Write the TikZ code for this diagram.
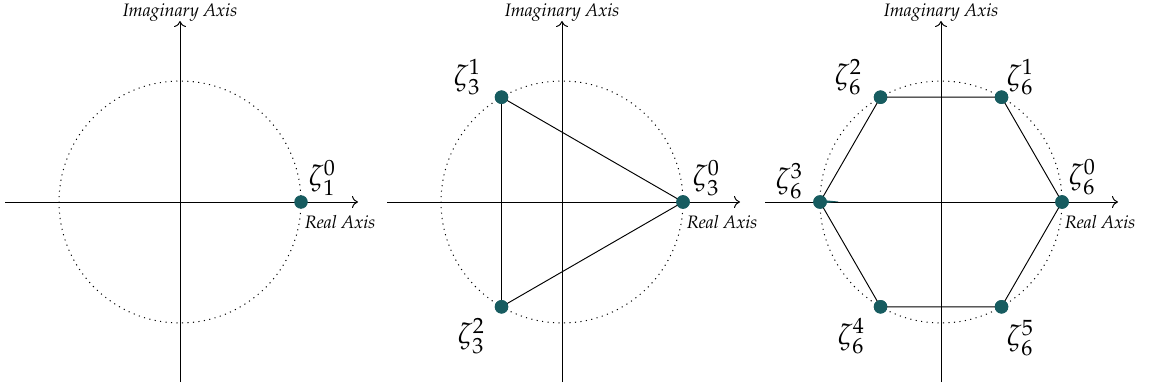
\documentclass[tikz,border=0pt]{standalone}
\usepackage[T1]{fontenc}
\usepackage{mathpazo}
\usetikzlibrary{arrows.meta}
\definecolor{dotteal}{HTML}{175C60}
\tikzset{
  axis/.style={line width=0.95pt,-{To[length=6pt,width=12pt]}},
  unitcircle/.style={line width=1pt,dash pattern=on 1.1pt off 4.4pt},
  edge/.style={line width=0.95pt},
  root/.style={circle,fill=dotteal,inner sep=0pt,minimum size=13.5pt},
  zlab/.style={font=\fontsize{29}{33}\selectfont},
  axlab/.style={font=\fontsize{18}{21}\selectfont\itshape}
}
\begin{document}
\begin{tikzpicture}[x=1pt,y=-1pt]
\useasboundingbox (0,0) rectangle (1153,390);
% ---------- panel 1 ----------
\coordinate (c1) at (180,202);
\coordinate (l1) at (5,202);
\coordinate (r1) at (358,202);
\coordinate (b1) at (180,382);
\coordinate (t1) at (180,21);
\draw[unitcircle] (c1) circle[radius=121];
\draw[axis] (l1) -- (r1);
\draw[axis] (b1) -- (t1);
\node[axlab] (im1) at (180,12) {Imaginary Axis};
\node[axlab] (re1) at (340,222) {Real Axis};
\node[root] (p10) at (301,202) {};
\node[zlab] (z10) at (322,178) {$\zeta_1^0$};
% ---------- panel 2 ----------
\coordinate (c2) at (562,202);
\coordinate (l2) at (387,202);
\coordinate (r2) at (740,202);
\coordinate (b2) at (562,382);
\coordinate (t2) at (562,21);
\draw[unitcircle] (c2) circle[radius=121];
\draw[axis] (l2) -- (r2);
\draw[axis] (b2) -- (t2);
\node[axlab] (im2) at (562,12) {Imaginary Axis};
\node[axlab] (re2) at (722,222) {Real Axis};
\node[root] (p30) at (683,202) {};
\node[root] (p31) at (501.5,97.2) {};
\node[root] (p32) at (501.5,306.8) {};
\draw[edge] (p30.center) -- (p31.center) -- (p32.center) -- (p30.center);
\node[root] at (p30) {};
\node[root] at (p31) {};
\node[root] at (p32) {};
\node[zlab] (z30) at (706,178) {$\zeta_3^0$};
\node[zlab] (z31) at (467,77) {$\zeta_3^1$};
\node[zlab] (z32) at (471,336) {$\zeta_3^2$};
% ---------- panel 3 ----------
\coordinate (c3) at (941,202);
\coordinate (l3) at (765,202);
\coordinate (r3) at (1118,202);
\coordinate (b3) at (941,382);
\coordinate (t3) at (941,21);
\draw[unitcircle] (c3) circle[radius=121];
\draw[axis] (l3) -- (r3);
\draw[axis] (b3) -- (t3);
\node[axlab] (im3) at (941,12) {Imaginary Axis};
\node[axlab] (re3) at (1100,222) {Real Axis};
\node[root] (p60) at (1062,202) {};
\node[root] (p61) at (1001.5,97.2) {};
\node[root] (p62) at (880.5,97.2) {};
\node[root] (p63) at (820,202) {};
\node[root] (p64) at (880.5,306.8) {};
\node[root] (p65) at (1001.5,306.8) {};
\draw[edge] (p60.center) -- (p61.center) -- (p62.center) -- (p63.center) -- (p64.center) -- (p65.center) -- (p60.center);
\fill[dotteal] (820,199.8) -- (839,201.6) -- (820,203.8) -- cycle;
\foreach \p in {p60,p61,p62,p63,p64,p65} \node[root] at (\p) {};
\node[zlab] (z60) at (1082,177) {$\zeta_6^0$};
\node[zlab] (z61) at (1020,77) {$\zeta_6^1$};
\node[zlab] (z62) at (848,77) {$\zeta_6^2$};
\node[zlab] (z63) at (789,181) {$\zeta_6^3$};
\node[zlab] (z64) at (851,336) {$\zeta_6^4$};
\node[zlab] (z65) at (1020,338) {$\zeta_6^5$};
\end{tikzpicture}
\end{document}
